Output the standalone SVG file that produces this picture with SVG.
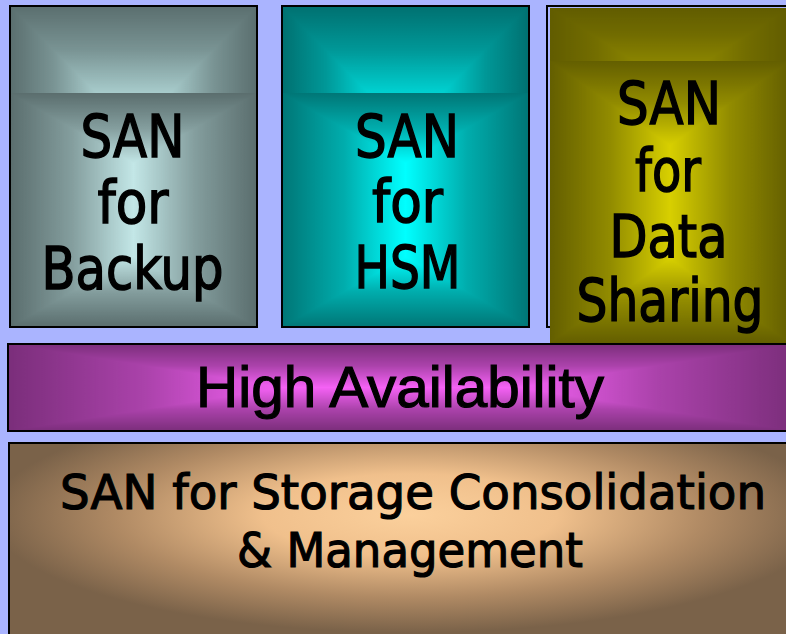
<svg xmlns="http://www.w3.org/2000/svg" width="786" height="634" viewBox="0 0 786 634">
<style>
.bd{fill:none;stroke:#000;stroke-width:2}
.t1{font-family:"DejaVu Sans","Liberation Sans",sans-serif;font-size:58px;fill:#000;stroke:#000;stroke-width:1.5;text-anchor:middle}
.t2{font-family:"Liberation Sans",Arial,sans-serif;font-size:58px;fill:#000;stroke:#000;stroke-width:1.2;text-anchor:middle}
.t3{font-family:"DejaVu Sans","Liberation Sans",sans-serif;font-size:48px;fill:#000;stroke:#000;stroke-width:1.2;text-anchor:middle}
.mp{shape-rendering:crispEdges}
</style>
<defs>
<linearGradient id="gDown" x1="0" y1="0" x2="0" y2="1"><stop offset="0" stop-color="#fff"/><stop offset="0.5" stop-color="#9a9a9a"/><stop offset="1" stop-color="#000"/></linearGradient>
<linearGradient id="gUp" x1="0" y1="1" x2="0" y2="0"><stop offset="0" stop-color="#fff"/><stop offset="0.5" stop-color="#9a9a9a"/><stop offset="1" stop-color="#000"/></linearGradient>
<linearGradient id="gRight" x1="0" y1="0" x2="1" y2="0"><stop offset="0" stop-color="#fff"/><stop offset="0.5" stop-color="#9a9a9a"/><stop offset="1" stop-color="#000"/></linearGradient>
<linearGradient id="gLeft" x1="1" y1="0" x2="0" y2="0"><stop offset="0" stop-color="#fff"/><stop offset="0.5" stop-color="#9a9a9a"/><stop offset="1" stop-color="#000"/></linearGradient>
<mask id="mBand" maskContentUnits="objectBoundingBox">
<polygon class="mp" points="0,0 1,0 0.65,1 0.35,1" fill="url(#gDown)"/>
<polygon class="mp" points="0,0 0.35,1 0,1" fill="url(#gRight)"/>
<polygon class="mp" points="1,0 1,1 0.65,1" fill="url(#gLeft)"/>
</mask>
<mask id="mV" maskContentUnits="objectBoundingBox">
<polygon class="mp" points="0,0 1,0 0.5,0.3" fill="url(#gDown)"/>
<polygon class="mp" points="0,1 0.5,0.7 1,1" fill="url(#gUp)"/>
<polygon class="mp" points="0,0 0.5,0.3 0.5,0.7 0,1" fill="url(#gRight)"/>
<polygon class="mp" points="1,0 1,1 0.5,0.7 0.5,0.3" fill="url(#gLeft)"/>
</mask>
<mask id="mH" maskContentUnits="objectBoundingBox">
<polygon class="mp" points="0,0 1,0 0.65,0.5 0.35,0.5" fill="url(#gDown)"/>
<polygon class="mp" points="0,1 0.35,0.5 0.65,0.5 1,1" fill="url(#gUp)"/>
<polygon class="mp" points="0,0 0.35,0.5 0,1" fill="url(#gRight)"/>
<polygon class="mp" points="1,0 1,1 0.65,0.5" fill="url(#gLeft)"/>
</mask>
<radialGradient id="gBottom" gradientUnits="userSpaceOnUse" cx="410" cy="515" r="420" gradientTransform="translate(410 515) scale(1 0.28) translate(-410 -515)">
<stop offset="0" stop-color="#fbd09c"/>
<stop offset="0.35" stop-color="#f0c08c"/>
<stop offset="0.7" stop-color="#b08a64"/>
<stop offset="1" stop-color="#7a6249"/>
</radialGradient>
</defs>
<rect x="0" y="0" width="786" height="634" fill="#aab4ff"/>

<g id="box-backup">
<rect x="10" y="6" width="247" height="87" fill="#a8cccc"/>
<rect x="10" y="6" width="247" height="87" fill="#5a6e6e" mask="url(#mBand)"/>
<rect x="10" y="93" width="247" height="234" fill="#c3e7e7"/>
<rect x="10" y="93" width="247" height="234" fill="#5a6d6d" mask="url(#mV)"/>
<rect class="bd" x="10" y="6" width="247" height="321"/>
<text class="t1" x="132.5" y="157" textLength="104" lengthAdjust="spacingAndGlyphs">SAN</text>
<text class="t1" x="133" y="223" textLength="71" lengthAdjust="spacingAndGlyphs">for</text>
<text class="t1" x="132.5" y="289" textLength="182" lengthAdjust="spacingAndGlyphs">Backup</text>
</g>

<g id="box-hsm">
<rect x="282" y="6" width="247" height="87" fill="#00d2d2"/>
<rect x="282" y="6" width="247" height="87" fill="#007070" mask="url(#mBand)"/>
<rect x="282" y="93" width="247" height="234" fill="#00ffff"/>
<rect x="282" y="93" width="247" height="234" fill="#007676" mask="url(#mV)"/>
<rect class="bd" x="282" y="6" width="247" height="321"/>
<text class="t1" x="407" y="157" textLength="104" lengthAdjust="spacingAndGlyphs">SAN</text>
<text class="t1" x="407.5" y="222" textLength="71" lengthAdjust="spacingAndGlyphs">for</text>
<text class="t1" x="407.5" y="288" textLength="106" lengthAdjust="spacingAndGlyphs">HSM</text>
</g>

<g id="box-datasharing">
<rect class="bd" x="547" y="6" width="250" height="321"/>
<rect x="550" y="8" width="240" height="53" fill="#8a8400"/>
<rect x="550" y="8" width="240" height="53" fill="#615c00" mask="url(#mBand)"/>
<rect x="550" y="61" width="240" height="282" fill="#d8d000"/>
<rect x="550" y="61" width="240" height="282" fill="#635e00" mask="url(#mV)"/>
<text class="t1" x="669" y="124" textLength="104" lengthAdjust="spacingAndGlyphs">SAN</text>
<text class="t1" x="668" y="191" textLength="66" lengthAdjust="spacingAndGlyphs">for</text>
<text class="t1" x="668.5" y="257" textLength="118" lengthAdjust="spacingAndGlyphs">Data</text>
<text class="t1" x="670" y="321" textLength="187" lengthAdjust="spacingAndGlyphs">Sharing</text>
</g>

<g id="high-availability">
<rect x="8" y="344" width="786" height="87" fill="#f562f5"/>
<rect x="8" y="344" width="786" height="87" fill="#7a2e7a" mask="url(#mH)"/>
<rect class="bd" x="8" y="344" width="786" height="87"/>
<text class="t2" x="400" y="407" textLength="408" lengthAdjust="spacingAndGlyphs">High Availability</text>
</g>

<g id="storage-consolidation">
<rect x="9" y="443" width="786" height="200" fill="url(#gBottom)"/>
<rect class="bd" x="9" y="443" width="786" height="200"/>
<text class="t3" x="413" y="509" textLength="706" lengthAdjust="spacingAndGlyphs">SAN for Storage Consolidation</text>
<text class="t3" x="410" y="567" textLength="346" lengthAdjust="spacingAndGlyphs">&amp; Management</text>
</g>
</svg>
